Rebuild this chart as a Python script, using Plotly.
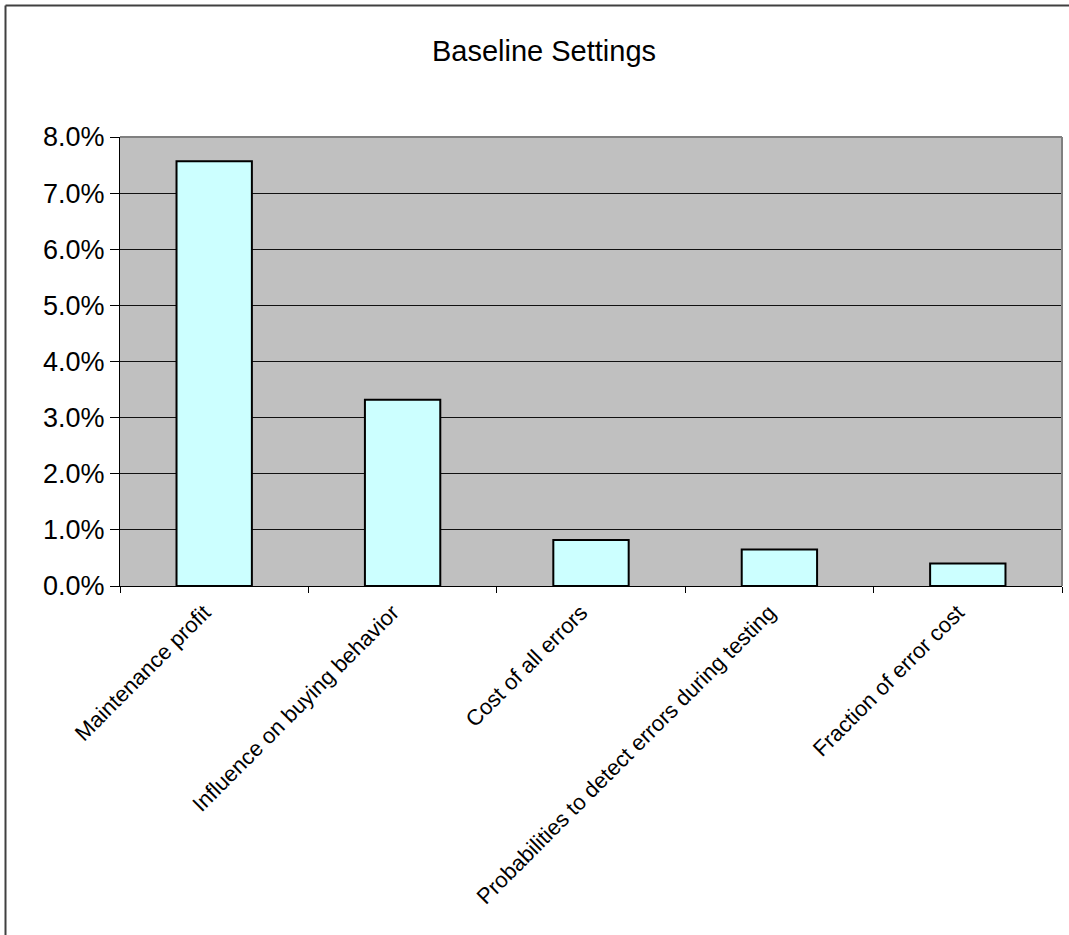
import plotly.graph_objects as go

# Sensitivity of the result to each input parameter (baseline settings)
categories = [
    "Maintenance profit",
    "Influence on buying behavior",
    "Cost of all errors",
    "Probabilities to detect errors during testing",
    "Fraction of error cost",
]
values = [0.0757, 0.0332, 0.0082, 0.0065, 0.0040]
y_ticks = [0.00, 0.01, 0.02, 0.03, 0.04, 0.05, 0.06, 0.07, 0.08]

FONT = "Arial, 'Liberation Sans', sans-serif"

fig = go.Figure(
    go.Bar(
        x=categories,
        y=values,
        marker=dict(color="#CCFFFF", line=dict(color="black", width=2)),
        hoverinfo="x+y",
    )
)

W, H = 1069, 935
L, R, T, B = 120, 7, 137, 349
plot_w = W - L - R
plot_h = H - T - B

fig.update_layout(
    width=W,
    height=H,
    margin=dict(l=L, r=R, t=T, b=B, autoexpand=False),
    paper_bgcolor="white",
    plot_bgcolor="#C0C0C0",
    bargap=0.6,
    showlegend=False,
    font=dict(family=FONT, color="black"),
    title=dict(
        text="Baseline Settings",
        x=544 / W,
        xanchor="center",
        y=1 - 51 / H,
        yanchor="middle",
        font=dict(family=FONT, size=29, color="black"),
    ),
    xaxis=dict(
        type="category",
        tickson="boundaries",
        ticks="outside",
        ticklen=6,
        tickcolor="black",
        tickwidth=1,
        showline=True,
        linecolor="black",
        linewidth=1,
        showgrid=False,
        tickangle=-45,
        ticklabelshift=-10,
        ticklabelstandoff=4,
        tickfont=dict(family=FONT, size=22, color="black"),
        automargin=False,
    ),
    yaxis=dict(
        range=[0, 0.08],
        tickvals=y_ticks,
        tickformat=".1%",
        ticks="outside",
        ticklen=9,
        tickcolor="black",
        tickwidth=1,
        showline=True,
        linecolor="black",
        linewidth=1,
        showgrid=True,
        gridcolor="#111111",
        gridwidth=1,
        zeroline=False,
        tickfont=dict(family=FONT, size=27, color="black"),
        automargin=False,
    ),
    shapes=[
        # grey top and right edges of the plot area
        dict(type="line", xref="paper", yref="paper", x0=0, x1=1, y0=1, y1=1,
             line=dict(color="#808080", width=2), layer="above"),
        dict(type="line", xref="paper", yref="paper", x0=1, x1=1, y0=0, y1=1,
             line=dict(color="#808080", width=2), layer="above"),
        # outer chart frame (top and left)
        dict(type="line", xref="paper", yref="paper",
             x0=(5.5 - L) / plot_w, x1=(W + 5 - L) / plot_w,
             y0=(H - B - 5.5) / plot_h, y1=(H - B - 5.5) / plot_h,
             line=dict(color="#404040", width=2)),
        dict(type="line", xref="paper", yref="paper",
             x0=(5.5 - L) / plot_w, x1=(5.5 - L) / plot_w,
             y0=(H - B - 5.5) / plot_h, y1=-(B + 5) / plot_h,
             line=dict(color="#404040", width=2)),
    ],
)

fig.write_html("out.html")
